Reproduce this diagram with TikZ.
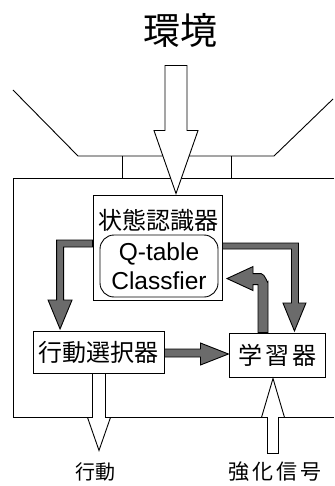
\documentclass[tikz,border=0pt]{standalone}
\usepackage{fontspec}
\setmainfont{Liberation Sans}
\newfontfamily\cjk{Noto Sans CJK JP}
\usetikzlibrary{calc}
\newcommand\cb[2]{\makebox[#1][c]{#2}}
\begin{document}
\begin{tikzpicture}[x=1pt,y=-1pt,
  box/.style={draw, line width=0.9pt, fill=white, inner sep=0pt},
  jp/.style={font=\cjk\fontsize{24}{28}\selectfont},
  hollow/.style={draw, line width=0.9pt, fill=white, line join=miter},
  grayarrow/.style={draw, line width=0.9pt, fill=black!58, line join=miter},
  frame/.style={line width=0.9pt}]
\useasboundingbox (0,0) rectangle (334,486);
% nodes
\node[font=\cjk\fontsize{37}{40}\selectfont] (env) at (180,30) {環境};
\node[box, minimum width=129pt, minimum height=105pt] (state) at (157.5,247.5) {};
\node[jp] (statelbl) at (158,220) {状態認識器};
\node[draw, line width=0.9pt, rounded corners=14pt, minimum width=118pt, minimum height=62pt, inner sep=0pt, align=center, font=\fontsize{24.5}{29}\selectfont] (qtab) at (159,266) {Q-table\\Classfier};
\node[box, minimum width=131pt, minimum height=42pt, jp] (act) at (98.5,352) {行動選択器};
\node[box, minimum width=96pt, minimum height=44pt, jp] (learn) at (277,355) {\cb{27pt}{学}\cb{27pt}{習}\cb{27pt}{器}};
\node[font=\cjk\fontsize{20}{24}\selectfont] (actlbl) at (95,472) {\cb{20pt}{行}\cb{20pt}{動}};
\node[font=\cjk\fontsize{21}{24}\selectfont] (rlbl) at (275,472) {\cb{24pt}{強}\cb{24pt}{化}\cb{24pt}{信}\cb{24pt}{号}};
% environment frame
\draw[frame] (13,90) -- (78,156) -- (274,156) -- (333,99);
\draw[frame] (122,156) -- (122,178) (231,156) -- (231,178);
\draw[frame] (334,178) -- (13,178) -- (13,417) -- (334,417);
% hollow arrows
\draw[hollow] ($(state.north)+(18.5,-1)$) -- ++(-22,-63) -- ++(11,0) -- ++(0,-65) -- ++(22,0) -- ++(0,65) -- ++(11,0) -- cycle;
\draw[hollow] ($(act.south)+(-6,0)$) -- ++(0,44) -- ++(-5,0) -- ++(11.5,33) -- ++(11.5,-33) -- ++(-5,0) -- ++(0,-44) -- cycle;
\draw[hollow] ($(learn.south)+(-4,1)$) -- ++(11.5,39) -- ++(-6,0) -- ++(0,36) -- ++(-11,0) -- ++(0,-36) -- ++(-6,0) -- cycle;
% gray arrows
\draw[grayarrow] ($(state.west)+(0,-7.5)$) -- ++(-36,0) -- ++(0,60) -- ++(-8.5,0) -- ++(12,29) -- ++(12,-29) -- ++(-8.5,0) -- ++(0,-53) -- ++(29,0) -- cycle;
\draw[grayarrow] ($(state.east)+(0,-4.5)$) -- ++(76,0) -- ++(0,60) -- ++(7.5,0) -- ++(-11.5,28) -- ++(-11.5,-28) -- ++(8.5,0) -- ++(0,-54) -- ++(-69,0) -- cycle;
\draw[grayarrow] ($(learn.north)+(-9,0)$) -- ++(0,-51) to[out=-90,in=0] ++(-7,-8) -- ++(-8,0) -- ++(0,-7) -- ++(-26,12) -- ++(26,12) -- ++(0,-6) -- ++(5,0) -- ++(0,48) -- cycle;
\draw[grayarrow] ($(act.east)+(0,-3)$) -- ++(36,0) -- ++(0,-6) -- ++(28,11) -- ++(-28,11) -- ++(0,-8) -- ++(-36,0) -- cycle;
\end{tikzpicture}
\end{document}
